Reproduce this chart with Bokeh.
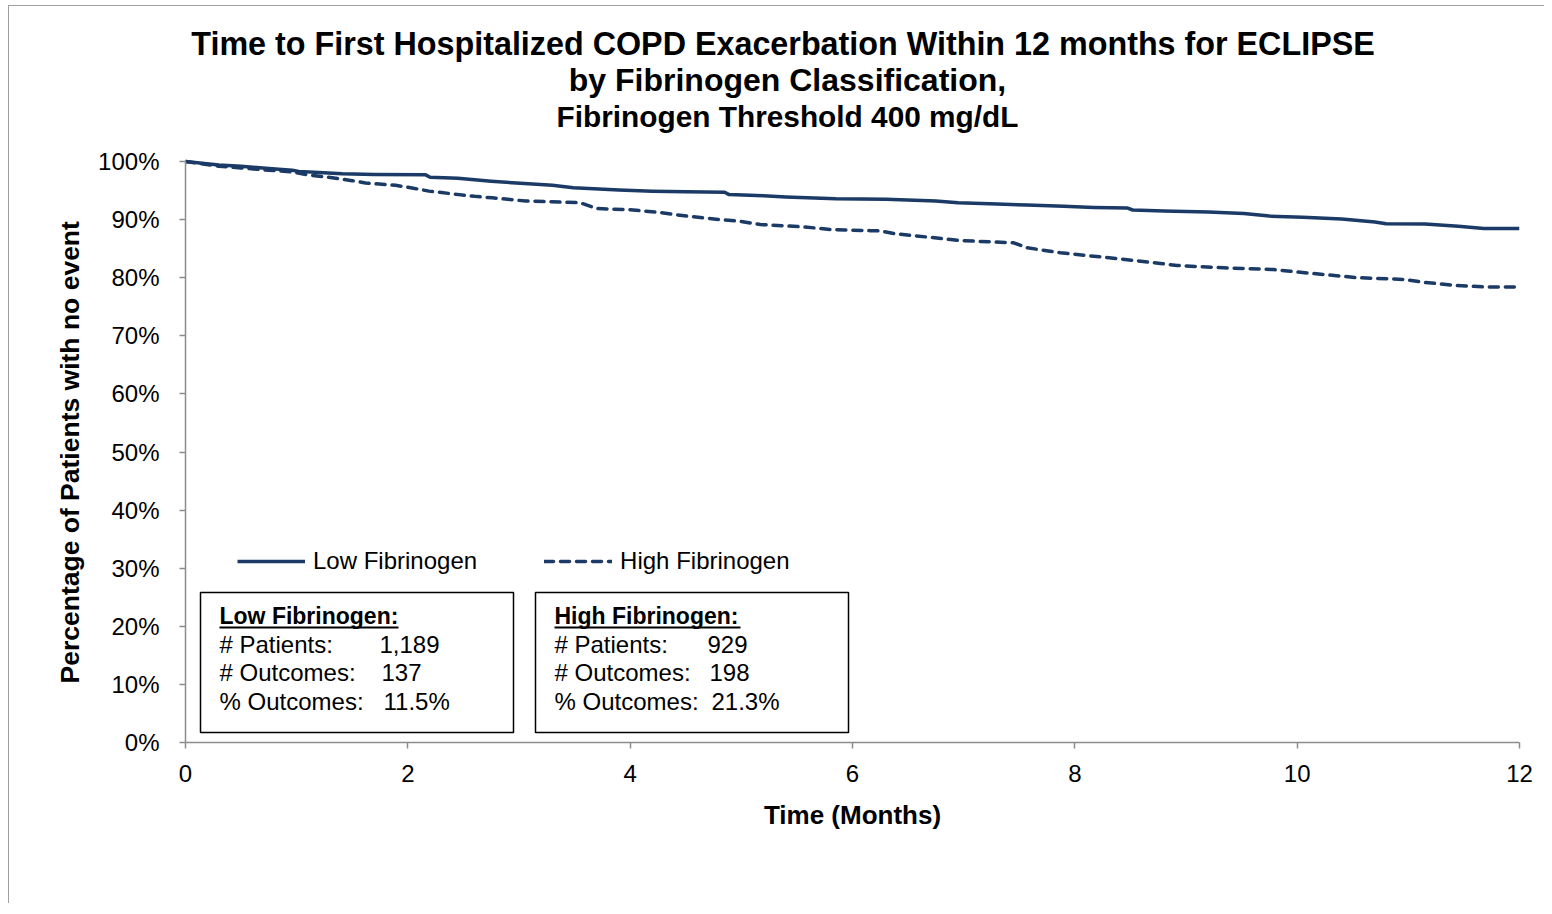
from bokeh.plotting import figure
from bokeh.models import (Range1d, FixedTicker, PrintfTickFormatter, Label, BoxAnnotation,
                          Legend, LegendItem, ColumnDataSource, Title)
from bokeh.embed import file_html
from bokeh.resources import INLINE

# ---------------- data ----------------
low_time = [0, 0.3, 0.5, 0.75, 0.96, 1.02, 1.2, 1.41, 1.7, 2.16, 2.2, 2.45, 2.6, 2.75, 3.05, 3.3,
            3.49, 3.9, 4.2, 4.5, 4.85, 4.89, 5.2, 5.4, 5.85, 6.3, 6.75, 6.95, 7.3, 7.57, 7.9, 8.17,
            8.47, 8.52, 8.8, 9.2, 9.52, 9.75, 10.05, 10.4, 10.7, 10.8, 11.15, 11.45, 11.68, 12]
low_surv = [100, 99.4, 99.2, 98.8, 98.5, 98.3, 98.1, 97.9, 97.75, 97.7, 97.3, 97.1, 96.85, 96.6, 96.2, 95.9,
            95.5, 95.1, 94.9, 94.8, 94.7, 94.3, 94.1, 93.9, 93.6, 93.5, 93.2, 92.9, 92.7, 92.5, 92.3, 92.1,
            92.0, 91.65, 91.5, 91.3, 91.05, 90.6, 90.4, 90.1, 89.6, 89.3, 89.25, 88.85, 88.47, 88.47]

high_time = [0, 0.3, 0.5, 0.75, 0.96, 1.1, 1.32, 1.5, 1.62, 1.89, 2.05, 2.19, 2.46, 2.6, 2.76, 3.06,
             3.55, 3.7, 4.0, 4.27, 4.51, 4.81, 4.99, 5.17, 5.56, 5.8, 6.16, 6.25, 6.37, 6.67, 6.97, 7.45,
             7.57, 7.87, 8.17, 8.47, 8.77, 8.92, 9.34, 9.79, 9.94, 10.24, 10.54, 10.96, 11.14, 11.44, 11.7, 12]
high_surv = [100, 99.2, 98.9, 98.5, 98.2, 97.7, 97.2, 96.7, 96.3, 95.9, 95.4, 94.9, 94.3, 94.0, 93.75, 93.2,
             92.9, 91.9, 91.7, 91.2, 90.6, 90.0, 89.7, 89.15, 88.75, 88.3, 88.1, 88.05, 87.6, 87.0, 86.4, 86.0,
             85.15, 84.3, 83.7, 83.1, 82.45, 82.1, 81.7, 81.4, 81.1, 80.55, 80.0, 79.7, 79.2, 78.65, 78.4, 78.4]

x_ticks = [0, 2, 4, 6, 8, 10, 12]
y_ticks = [0, 10, 20, 30, 40, 50, 60, 70, 80, 90, 100]

series_names = ["Low Fibrinogen", "High Fibrinogen"]
stat_rows = ["# Patients:", "# Outcomes:", "% Outcomes:"]
low_stats = ["1,189", "137", "11.5%"]
high_stats = ["929", "198", "21.3%"]

title_lines = ["Time to First Hospitalized COPD Exacerbation Within  12 months for ECLIPSE",
               "by Fibrinogen Classification,",
               "Fibrinogen Threshold 400 mg/dL"]
x_label = "Time (Months)"
y_label = "Percentage  of Patients with no event"

# ---------------- layout constants ----------------
FONT = "Liberation Sans"
NAVY = "#1b3a66"
AXIS_GRAY = "#8c8c8c"
W, H = 1536, 898
B_LEFT, B_RIGHT, B_TOP, B_BOTTOM = 176, 26, 20, 162
PLOT_PX_0_100 = 581.0          # pixel height of the 0..100 % span
frame_h = H - B_TOP - B_BOTTOM
y_top = 100.0 * frame_h / PLOT_PX_0_100   # frame extends above 100% to hold the title

p = figure(width=W, height=H, output_backend="svg", toolbar_location=None,
           x_range=Range1d(0, 12), y_range=Range1d(0, y_top),
           min_border_left=B_LEFT, min_border_right=B_RIGHT,
           min_border_top=B_TOP, min_border_bottom=B_BOTTOM)
p.outline_line_color = None
p.xgrid.visible = False
p.ygrid.visible = False
p.background_fill_color = "white"
p.border_fill_color = "white"
p.styles = {"margin-left": "8px", "margin-top": "5px",
            "border-left": "1.5px solid #a0a0a0", "border-top": "1.5px solid #a0a0a0"}

src_low = ColumnDataSource(dict(t=low_time, s=low_surv))
src_high = ColumnDataSource(dict(t=high_time, s=high_surv))
r_low = p.line("t", "s", source=src_low, line_color=NAVY, line_width=3.5, line_join="round")
r_high = p.line("t", "s", source=src_high, line_color=NAVY, line_width=3.5, line_dash="9 7",
                line_cap="round", line_join="round")

# axes
for ax in (p.xaxis[0], p.yaxis[0]):
    ax.axis_line_color = AXIS_GRAY
    ax.axis_line_width = 1.5
    ax.major_tick_line_color = AXIS_GRAY
    ax.major_tick_line_width = 1.5
    ax.major_tick_in = 0
    ax.major_tick_out = 6
    ax.minor_tick_line_color = None
    ax.major_label_text_font = FONT
    ax.major_label_text_font_size = "24px"
    ax.major_label_text_color = "black"
    ax.axis_label_text_font = FONT
    ax.axis_label_text_font_size = "26px"
    ax.axis_label_text_font_style = "bold"
    ax.axis_label_text_color = "black"

p.xaxis.ticker = FixedTicker(ticks=x_ticks)
p.yaxis.ticker = FixedTicker(ticks=y_ticks)
p.xaxis.bounds = (x_ticks[0], x_ticks[-1])
p.yaxis.bounds = (y_ticks[0], y_ticks[-1])
p.yaxis.formatter = PrintfTickFormatter(format="%d%%")
p.xaxis.axis_label = x_label
p.xaxis.major_label_standoff = 16
p.yaxis.major_label_standoff = 20
p.xaxis.axis_label_standoff = 15

# y axis title: placed in the left panel, starting at the level of the 0..100 span's lower part
p.add_layout(Title(text=y_label, align="left", offset=59, standoff=21, vertical_align="bottom",
                   text_font=FONT, text_font_size="26.5px", text_font_style="bold",
                   text_color="black"), "left")

# legend
legend = Legend(items=[LegendItem(label=series_names[0], renderers=[r_low]),
                       LegendItem(label=series_names[1], renderers=[r_high])],
                orientation="horizontal", location=(52, 167),
                glyph_width=68, glyph_height=28, label_standoff=8, spacing=67,
                padding=0, margin=0, border_line_color=None, background_fill_alpha=0,
                label_text_font=FONT, label_text_font_size="24px", label_text_color="black")
p.add_layout(legend, "center")


def px_x(px):
    return (px - 185) / (1519 - 185) * 12


def px_y(py):
    return (743 - py) / PLOT_PX_0_100 * 100


# title, centred on the whole chart
for line, py, fs in zip(title_lines, [44, 80, 117], ["32.3px", "32px", "29.8px"]):
    p.add_layout(Label(x=px_x(787), y=px_y(py), text=line, text_align="center",
                       text_baseline="middle", text_font=FONT, text_font_size=fs,
                       text_font_style="bold", text_color="black"))

# stat boxes
boxes = [(200, 513, low_stats, series_names[0] + ":", 379),
         (535, 848, high_stats, series_names[1] + ":", 707)]
for left, right, vals, head, vx in boxes:
    p.add_layout(BoxAnnotation(left=px_x(left), right=px_x(right), top=px_y(593), bottom=px_y(733),
                               fill_alpha=0, line_color="black", line_alpha=1.0, line_width=1.5))
    tx = left + 19
    p.add_layout(Label(x=px_x(tx), y=px_y(616), text=head, text_align="left", text_baseline="middle",
                       text_font=FONT, text_font_size="23px", text_font_style="bold", text_color="black"))
    p.segment(x0=[px_x(tx)], x1=[px_x(tx + 179 + (7 if "High" in head else 0))],
              y0=[px_y(628)], y1=[px_y(628)], line_color="black", line_width=2)
    for i, (row, v) in enumerate(zip(stat_rows, vals)):
        py = [645, 673, 702][i]
        p.add_layout(Label(x=px_x(tx), y=px_y(py), text=row, text_align="left", text_baseline="middle",
                           text_font=FONT, text_font_size="24px", text_color="black"))
        p.add_layout(Label(x=px_x(vx + [0, 2, 4][i]), y=px_y(py), text=v, text_align="left",
                           text_baseline="middle", text_font=FONT, text_font_size="24px",
                           text_color="black"))

open("out.html", "w").write(file_html(p, INLINE))
